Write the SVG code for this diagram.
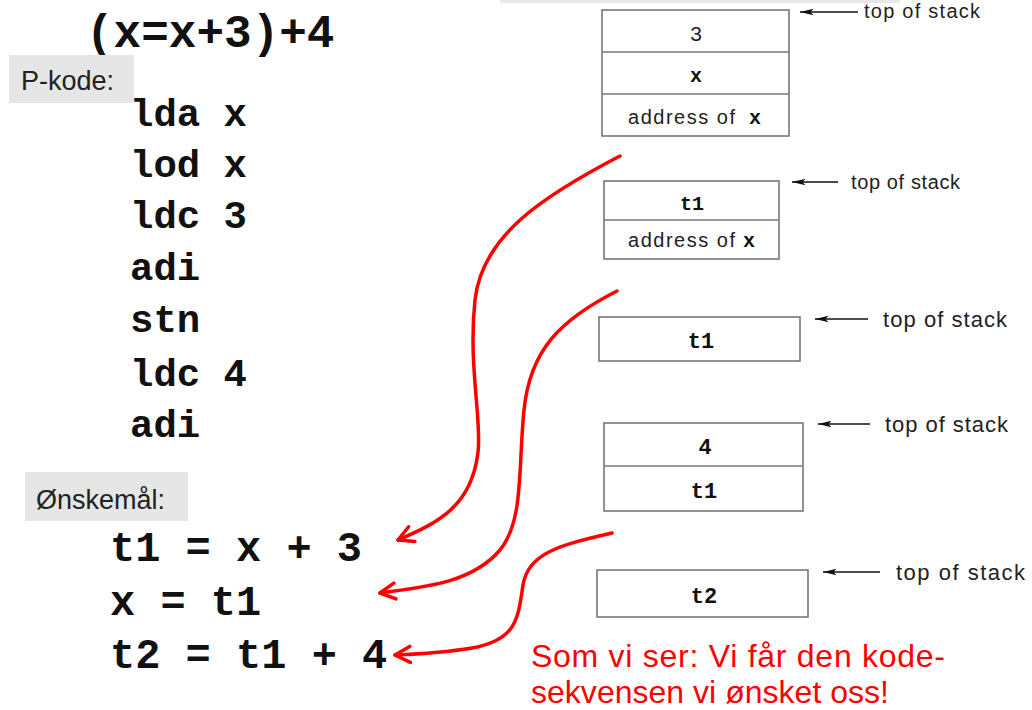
<svg xmlns="http://www.w3.org/2000/svg" width="1032" height="710" viewBox="0 0 1032 710">
<defs>
<style>
.mono{font-family:"Liberation Mono","Courier New",monospace;font-weight:bold;fill:#111}
.sans{font-family:"Liberation Sans",Arial,sans-serif;fill:#222}
.box{fill:#fff;stroke:#777;stroke-width:1.6}
.div{stroke:#777;stroke-width:1.4}
.ptr{stroke:#111;stroke-width:1.3;fill:none}
.red{stroke:#f00;stroke-width:3.5;fill:none;stroke-linecap:round}
.lbl{fill:#e6e6e6}
</style>
<marker id="blk" viewBox="0 0 14 8" refX="0.5" refY="4" markerWidth="14" markerHeight="8" markerUnits="userSpaceOnUse" orient="auto">
<path d="M0,4 L14,0.8 L11,4 L14,7.2 Z" fill="#111"/>
</marker>
<marker id="redhd" viewBox="0 0 20 20" refX="18" refY="10" markerWidth="20" markerHeight="20" markerUnits="userSpaceOnUse" orient="auto">
<path d="M3,2 L18,10 L3,18" fill="none" stroke="#f00" stroke-width="3.5" stroke-linecap="round" stroke-linejoin="round"/>
</marker>
</defs>
<rect width="1032" height="710" fill="#fff"/>
<rect x="500" y="0" width="400" height="3" fill="#e8e8e8"/>

<g id="title">
<text class="mono" x="86" y="47" font-size="46">(x=x+3)+4</text>
</g>

<g id="pkode-label">
<rect class="lbl" x="9" y="55" width="125" height="48"/>
<text class="sans" x="21" y="90" font-size="27">P-kode:</text>
</g>

<g id="pkode" class="mono" font-size="39">
<text x="130" y="126">lda x</text>
<text x="130" y="177">lod x</text>
<text x="130" y="228">ldc 3</text>
<text x="130" y="280">adi</text>
<text x="130" y="332">stn</text>
<text x="130" y="386">ldc 4</text>
<text x="130" y="437">adi</text>
</g>

<g id="onske-label">
<rect class="lbl" x="25" y="472" width="163" height="49"/>
<text class="sans" x="36" y="509" font-size="27">Ønskemål:</text>
</g>

<g id="onske" class="mono" font-size="42">
<text x="110" y="561">t1 = x + 3</text>
<text x="110" y="615">x = t1</text>
<text x="110" y="668">t2 = t1 + 4</text>
</g>

<g id="stack1">
<rect class="box" x="602" y="10" width="187" height="126"/>
<line class="div" x1="602" y1="52" x2="789" y2="52"/>
<line class="div" x1="602" y1="94" x2="789" y2="94"/>
<text class="sans" x="696" y="41" font-size="21" text-anchor="middle">3</text>
<text class="mono" x="696" y="82" font-size="20" text-anchor="middle">x</text>
<text class="sans" x="628" y="124" font-size="20" textLength="107" lengthAdjust="spacing">address of</text>
<text class="mono" x="755" y="124" font-size="20" text-anchor="middle">x</text>
<line class="ptr" x1="800" y1="12" x2="858" y2="12" marker-start="url(#blk)"/>
<text class="sans" x="864" y="18" font-size="20" textLength="116" lengthAdjust="spacing">top of stack</text>
</g>

<g id="stack2">
<rect class="box" x="604" y="181" width="175" height="78"/>
<line class="div" x1="604" y1="220" x2="779" y2="220"/>
<text class="mono" x="692" y="210" font-size="20" text-anchor="middle">t1</text>
<text class="sans" x="628" y="247" font-size="20" textLength="107" lengthAdjust="spacing">address of</text>
<text class="mono" x="749" y="247" font-size="20" text-anchor="middle">x</text>
<line class="ptr" x1="792" y1="182" x2="838" y2="182" marker-start="url(#blk)"/>
<text class="sans" x="851" y="189" font-size="20" textLength="109" lengthAdjust="spacing">top of stack</text>
</g>

<g id="stack3">
<rect class="box" x="599" y="317" width="201" height="44"/>
<text class="mono" x="701" y="348" font-size="22" text-anchor="middle">t1</text>
<line class="ptr" x1="815" y1="319" x2="868" y2="319" marker-start="url(#blk)"/>
<text class="sans" x="883" y="327" font-size="22" textLength="124" lengthAdjust="spacing">top of stack</text>
</g>

<g id="stack4">
<rect class="box" x="604" y="423" width="199" height="88"/>
<line class="div" x1="604" y1="466" x2="803" y2="466"/>
<text class="mono" x="705" y="454" font-size="22" text-anchor="middle">4</text>
<text class="mono" x="704" y="498" font-size="22" text-anchor="middle">t1</text>
<line class="ptr" x1="818" y1="424" x2="870" y2="424" marker-start="url(#blk)"/>
<text class="sans" x="885" y="432" font-size="22" textLength="123" lengthAdjust="spacing">top of stack</text>
</g>

<g id="stack5">
<rect class="box" x="597" y="570" width="211" height="47"/>
<text class="mono" x="704" y="603" font-size="22" text-anchor="middle">t2</text>
<line class="ptr" x1="823" y1="572" x2="880" y2="572" marker-start="url(#blk)"/>
<text class="sans" x="896" y="580" font-size="22" textLength="129" lengthAdjust="spacing">top of stack</text>
</g>

<g id="connectors">
<path class="red" d="M620,156 C545,195 482,235 475,300 C468,365 482,420 478,452 C472,505 440,522 398,540" marker-end="url(#redhd)"/>
<path class="red" d="M617,291 C560,320 530,350 524,410 C518,470 524,520 500,550 C472,583 425,587 380,593" marker-end="url(#redhd)"/>
<path class="red" d="M612,533 C560,545 528,553 523,585 C518,620 516,640 472,648 C442,653 420,654 395,655" marker-end="url(#redhd)"/>
</g>

<g id="note" font-family="'Liberation Sans',Arial,sans-serif" font-size="32" fill="#f00">
<text x="531" y="667" textLength="414" lengthAdjust="spacing">Som vi ser: Vi får den kode-</text>
<text x="531" y="703" textLength="358" lengthAdjust="spacing">sekvensen vi ønsket oss!</text>
</g>
</svg>
